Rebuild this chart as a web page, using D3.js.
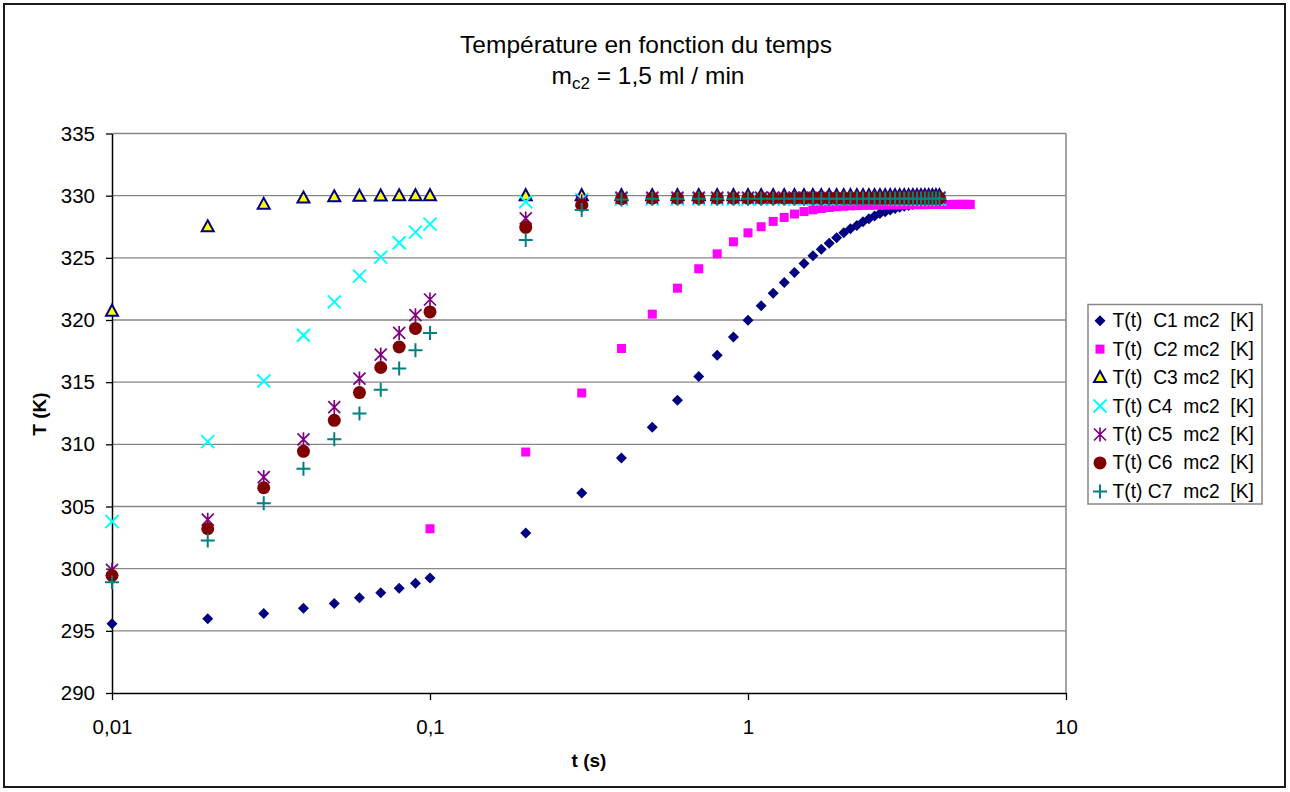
<!DOCTYPE html>
<html>
<head>
<meta charset="utf-8">
<script src="https://cdn.jsdelivr.net/npm/d3@7/dist/d3.min.js"></script>
<style>
  html, body { margin: 0; padding: 0; background: #fff; }
  svg { display: block; }
  text { font-family: "Liberation Sans", Arial, sans-serif; fill: #000; }
</style>
</head>
<body>
<svg id="chart" width="1290" height="792"></svg>
<script>
// Sampling times (s) for series C1 and C3..C7
const timeMain = [0.01, 0.02, 0.03, 0.04, 0.05, 0.06, 0.07, 0.08, 0.09,
  0.1, 0.2, 0.3, 0.4, 0.5, 0.6, 0.7, 0.8, 0.9, 1.0,
  1.1, 1.2, 1.3, 1.4, 1.5, 1.6, 1.7, 1.8, 1.9, 2.0,
  2.1, 2.2, 2.3, 2.4, 2.5, 2.6, 2.7, 2.8, 2.9, 3.0,
  3.1, 3.2, 3.3, 3.4, 3.5, 3.6, 3.7, 3.8, 3.9, 4.0];

// Sampling times (s) for series C2
const timeC2 = [0.1, 0.2, 0.3, 0.4, 0.5, 0.6, 0.7, 0.8, 0.9, 1.0,
  1.1, 1.2, 1.3, 1.4, 1.5, 1.6, 1.7, 1.8, 1.9, 2.0,
  2.1, 2.2, 2.3, 2.4, 2.5, 2.6, 2.7, 2.8, 2.9, 3.0,
  3.1, 3.2, 3.3, 3.4, 3.5, 3.6, 3.7, 3.8, 3.9, 4.0,
  4.1, 4.2, 4.3, 4.4, 4.5, 4.6, 4.7, 4.8, 4.9, 5.0];

// Temperatures (K)
const tempC1 = [295.56, 295.97, 296.40, 296.82, 297.20, 297.66, 298.06, 298.43, 298.83,
  299.24, 302.86, 306.08, 308.90, 311.37, 313.54, 315.45, 317.17, 318.64, 319.98,
  321.14, 322.16, 323.02, 323.82, 324.55, 325.16, 325.70, 326.18, 326.61, 327.01,
  327.34, 327.61, 327.90, 328.14, 328.36, 328.57, 328.71, 328.84, 328.97, 329.06,
  329.14, 329.21, 329.28, 329.34, 329.40, 329.45, 329.50, 329.54, 329.58, 329.62];

const tempC2 = [303.21, 309.38, 314.13, 317.71, 320.47, 322.56, 324.12, 325.32, 326.29, 327.01,
  327.50, 327.93, 328.25, 328.52, 328.72, 328.86, 328.97, 329.05, 329.11, 329.15,
  329.18, 329.20, 329.22, 329.23, 329.24, 329.25, 329.25, 329.26, 329.26, 329.27,
  329.27, 329.27, 329.28, 329.28, 329.28, 329.28, 329.29, 329.29, 329.29, 329.29,
  329.29, 329.29, 329.29, 329.30, 329.30, 329.30, 329.30, 329.30, 329.30, 329.30];

const tempC3 = [320.71, 327.50, 329.30, 329.81, 329.91, 329.96, 329.98, 329.99, 330.00,
  330.00, 330.00, 330.00, 330.00, 330.00, 330.00, 330.00, 330.00, 330.00, 330.00,
  330.00, 330.00, 330.00, 330.00, 330.00, 330.00, 330.00, 330.00, 330.00, 330.00,
  330.00, 330.00, 330.00, 330.00, 330.00, 330.00, 330.00, 330.00, 330.00, 330.00,
  330.00, 330.00, 330.00, 330.00, 330.00, 330.00, 330.00, 330.00, 330.00, 330.00];

const tempC4 = [303.80, 310.22, 315.10, 318.78, 321.46, 323.53, 325.06, 326.21, 327.07,
  327.71, 329.51, 329.68, 329.72, 329.72, 329.72, 329.72, 329.72, 329.72, 329.72,
  329.72, 329.72, 329.72, 329.72, 329.72, 329.72, 329.72, 329.72, 329.72, 329.72,
  329.72, 329.72, 329.72, 329.72, 329.72, 329.72, 329.72, 329.72, 329.72, 329.72,
  329.72, 329.72, 329.72, 329.72, 329.72, 329.72, 329.72, 329.72, 329.72, 329.72];

const tempC5 = [299.91, 303.94, 307.37, 310.40, 313.00, 315.29, 317.22, 318.96, 320.39,
  321.65, 328.17, 329.55, 329.85, 329.85, 329.85, 329.85, 329.85, 329.85, 329.85,
  329.85, 329.85, 329.85, 329.85, 329.85, 329.85, 329.85, 329.85, 329.85, 329.85,
  329.85, 329.85, 329.85, 329.85, 329.85, 329.85, 329.85, 329.85, 329.85, 329.85,
  329.85, 329.85, 329.85, 329.85, 329.85, 329.85, 329.85, 329.85, 329.85, 329.85];

const tempC6 = [299.45, 303.21, 306.51, 309.44, 311.93, 314.16, 316.18, 317.83, 319.32,
  320.65, 327.45, 329.24, 329.75, 329.80, 329.80, 329.80, 329.80, 329.80, 329.80,
  329.80, 329.80, 329.80, 329.80, 329.80, 329.80, 329.80, 329.80, 329.80, 329.80,
  329.80, 329.80, 329.80, 329.80, 329.80, 329.80, 329.80, 329.80, 329.80, 329.80,
  329.80, 329.80, 329.80, 329.80, 329.80, 329.80, 329.80, 329.80, 329.80, 329.80];

const tempC7 = [298.91, 302.27, 305.27, 308.04, 310.40, 312.47, 314.40, 316.10, 317.57,
  318.96, 326.43, 328.84, 329.70, 329.75, 329.75, 329.75, 329.75, 329.75, 329.75,
  329.75, 329.75, 329.75, 329.75, 329.75, 329.75, 329.75, 329.75, 329.75, 329.75,
  329.75, 329.75, 329.75, 329.75, 329.75, 329.75, 329.75, 329.75, 329.75, 329.75,
  329.75, 329.75, 329.75, 329.75, 329.75, 329.75, 329.75, 329.75, 329.75, 329.75];

const seriesNames = ["T(t)  C1 mc2  [K]", "T(t)  C2 mc2  [K]", "T(t)  C3 mc2  [K]",
  "T(t) C4  mc2  [K]", "T(t) C5  mc2  [K]", "T(t) C6  mc2  [K]", "T(t) C7  mc2  [K]"];

const xTicks = [0.01, 0.1, 1, 10];
const xTickLabels = ["0,01", "0,1", "1", "10"];
const yTicks = [290, 295, 300, 305, 310, 315, 320, 325, 330, 335];

const series = [
  { name: seriesNames[0], t: timeMain, v: tempC1, marker: "diamond" },
  { name: seriesNames[1], t: timeC2,   v: tempC2, marker: "square" },
  { name: seriesNames[2], t: timeMain, v: tempC3, marker: "triangle" },
  { name: seriesNames[3], t: timeMain, v: tempC4, marker: "cross" },
  { name: seriesNames[4], t: timeMain, v: tempC5, marker: "star" },
  { name: seriesNames[5], t: timeMain, v: tempC6, marker: "circle" },
  { name: seriesNames[6], t: timeMain, v: tempC7, marker: "plus" }
];

const svg = d3.select("#chart");
const plot = { left: 112, right: 1066, top: 133.5, bottom: 693 };

const x = d3.scaleLog().domain([0.01, 10]).range([plot.left, plot.right]);
const y = d3.scaleLinear().domain([290, 335]).range([plot.bottom, plot.top]);

// Outer frame
svg.append("rect")
  .attr("x", 4).attr("y", 4).attr("width", 1281).attr("height", 783)
  .attr("fill", "#fff").attr("stroke", "#1a1a1a").attr("stroke-width", 2);

// Title
const title = svg.append("text").attr("text-anchor", "middle").style("font-size", "24.5px");
title.append("tspan").attr("x", 646).attr("y", 53).text("Température en fonction du temps");
const sub = svg.append("text").attr("text-anchor", "middle").attr("x", 648).attr("y", 84)
  .style("font-size", "24.5px");
sub.append("tspan").text("m");
sub.append("tspan").attr("dy", 5).style("font-size", "17px").text("c2");
sub.append("tspan").attr("dy", -5).text(" = 1,5 ml / min");

// Horizontal gridlines
svg.append("g").selectAll("line")
  .data(yTicks.filter(d => d > 290))
  .join("line")
  .attr("x1", plot.left).attr("x2", plot.right)
  .attr("y1", d => y(d)).attr("y2", d => y(d))
  .attr("stroke", "#868686").attr("stroke-width", 1.3);

// Right edge of the plot area
svg.append("line")
  .attr("x1", plot.right).attr("x2", plot.right)
  .attr("y1", plot.top).attr("y2", plot.bottom)
  .attr("stroke", "#868686").attr("stroke-width", 1.5);

// Axes
const yAxis = d3.axisLeft(y).tickValues(yTicks).tickFormat(d => d)
  .tickSize(6).tickSizeOuter(0).tickPadding(11);
const yg = svg.append("g").attr("transform", `translate(${plot.left},0)`).call(yAxis);

const xAxis = d3.axisBottom(x).tickValues(xTicks)
  .tickFormat((d, i) => xTickLabels[i]).tickSize(7).tickSizeOuter(0).tickPadding(19);
const xg = svg.append("g").attr("transform", `translate(0,${plot.bottom})`).call(xAxis);

[yg, xg].forEach(g => {
  g.select(".domain").attr("stroke", "#000").attr("stroke-width", 1.5);
  g.selectAll(".tick line").attr("stroke", "#000").attr("stroke-width", 1.3);
  g.selectAll(".tick text")
    .style("font-family", '"Liberation Sans", Arial, sans-serif')
    .style("font-size", "20.5px").attr("fill", "#000");
});

// Axis titles
svg.append("text").attr("x", 589).attr("y", 767).attr("text-anchor", "middle")
  .style("font-size", "19px").style("font-weight", "bold").text("t (s)");
svg.append("text").attr("transform", "translate(46,414) rotate(-90)").attr("text-anchor", "middle")
  .style("font-size", "19px").style("font-weight", "bold").text("T (K)");

// Marker glyphs
function drawMarker(g, type) {
  switch (type) {
    case "diamond":
      g.append("path").attr("d", "M0,-5.5L5.5,0L0,5.5L-5.5,0Z").attr("fill", "#000080");
      break;
    case "square":
      g.append("rect").attr("x", -4.5).attr("y", -4.5).attr("width", 9).attr("height", 9)
        .attr("fill", "#ff00ff");
      break;
    case "triangle":
      g.append("path").attr("d", "M0,-6.5L6,4.5L-6,4.5Z")
        .attr("fill", "#ffff00").attr("stroke", "#000080").attr("stroke-width", 2)
        .attr("stroke-linejoin", "miter");
      break;
    case "cross":
      g.append("path").attr("d", "M-6.5,-6.5L6.5,6.5M-6.5,6.5L6.5,-6.5")
        .attr("stroke", "#00ffff").attr("stroke-width", 2).attr("fill", "none");
      break;
    case "star":
      g.append("path").attr("d", "M-6,-6L6,6M-6,6L6,-6M0,-7L0,7")
        .attr("stroke", "#800080").attr("stroke-width", 1.7).attr("fill", "none");
      break;
    case "circle":
      g.append("circle").attr("r", 6.5).attr("fill", "#800000");
      break;
    case "plus":
      g.append("path").attr("d", "M-7,0L7,0M0,-7L0,7")
        .attr("stroke", "#008080").attr("stroke-width", 2).attr("fill", "none");
      break;
  }
}

// Data points
series.forEach(s => {
  svg.append("g").selectAll("g")
    .data(d3.zip(s.t, s.v))
    .join("g")
    .attr("transform", d => `translate(${x(d[0])},${y(d[1])})`)
    .each(function () { drawMarker(d3.select(this), s.marker); });
});

// Legend
const legend = svg.append("g");
legend.append("rect").attr("x", 1088).attr("y", 304.5).attr("width", 174).attr("height", 199.5)
  .attr("fill", "#fff").attr("stroke", "#868686").attr("stroke-width", 1.5);
const rows = legend.selectAll("g.row").data(series).join("g").attr("class", "row")
  .attr("transform", (d, i) => `translate(1100,${320.7 + i * 28.45})`);
rows.each(function (d) { drawMarker(d3.select(this), d.marker); });
rows.append("text").attr("x", 12.5).attr("y", 6.5)
  .style("font-size", "19.3px").style("white-space", "pre")
  .text(d => d.name);
</script>
</body>
</html>
